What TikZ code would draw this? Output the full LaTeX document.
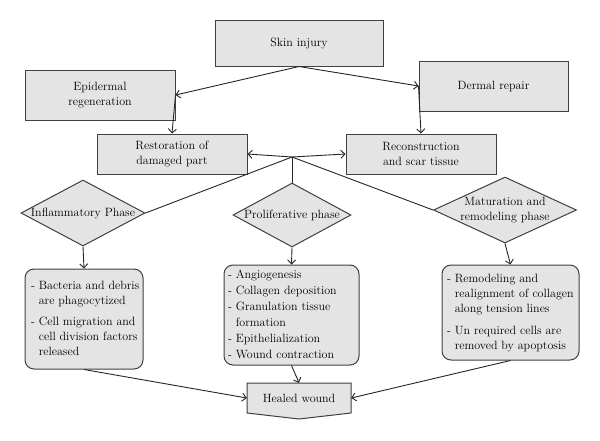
\documentclass[tikz,border=0pt]{standalone}
\usetikzlibrary{shapes.geometric,arrows.meta}
\definecolor{boxfill}{HTML}{E4E4E4}
\definecolor{edgec}{HTML}{404040}
\definecolor{linec}{HTML}{262626}
\begin{document}
\begin{tikzpicture}[x=1pt,y=-1pt,
  every node/.style={font=\rmfamily\fontsize{12}{15}\selectfont, text=black},
  sqbox/.style={draw=edgec, fill=boxfill, line width=1pt, inner sep=0, align=center},
  dia/.style={diamond, draw=edgec, fill=boxfill, line width=1pt, inner sep=0},
  rbox/.style={draw=edgec, fill=boxfill, line width=1pt, rounded corners=9pt, inner sep=0},
  conn/.style={draw=linec, line width=0.9pt},
  arr/.style={conn, -{Straight Barb[length=4pt,width=8pt]}}]
\useasboundingbox[fill=white] (0,0) rectangle (600,440);

% top boxes
\node[sqbox, minimum width=168, minimum height=46] (skin) at (299,43) {Skin injury};
\node[sqbox, minimum width=150, minimum height=50] (epi) at (100,95) {Epidermal\\regeneration};
\node[sqbox, minimum width=149, minimum height=50] (derm) at (493.5,86) {Dermal repair};
\node[sqbox, minimum width=150, minimum height=40] (rest) at (172,154) {Restoration of\\damaged part};
\node[sqbox, minimum width=150, minimum height=40] (recon) at (421,154) {Reconstruction\\and scar tissue};

% diamonds
\node[dia, minimum width=124, minimum height=66] (inf) at (83,213) {};
\node at (inf) {Inflammatory Phase};
\node[dia, minimum width=118, minimum height=64] (pro) at (292,215) {};
\node at (pro) {Proliferative phase};
\node[dia, minimum width=143, minimum height=66] (mat) at (505,210) {};
\node[align=center] at (mat) {Maturation and\\remodeling phase};

% rounded boxes
\node[rbox, minimum width=118, minimum height=100] (ibox) at (84,319) {\makebox[106pt][l]{\begin{tabular}{@{}l@{}}
- Bacteria and debris\\
\phantom{- }are phagocytized\\[6pt]
- Cell migration and\\
\phantom{- }cell division factors\\
\phantom{- }released
\end{tabular}}};
\node[rbox, minimum width=135, minimum height=100] (pbox) at (291.5,315) {\makebox[127pt][l]{\fontsize{12}{16}\selectfont\begin{tabular}{@{}l@{}}
- Angiogenesis\\
- Collagen deposition\\
- Granulation tissue\\
\phantom{- }formation\\
- Epithelialization\\
- Wound contraction
\end{tabular}}};
\node[rbox, minimum width=137, minimum height=95] (mbox) at (510.5,312.5) {\makebox[127pt][l]{\begin{tabular}{@{}l@{}}
- Remodeling and\\
\phantom{- }realignment of collagen\\
\phantom{- }along tension lines\\[7pt]
- Un required cells are\\
\phantom{- }removed by apoptosis
\end{tabular}}};

% healed wound
\path[draw=edgec, fill=boxfill, line width=1pt] (247,383) -- (351,383) -- (351,413) -- (299,419) -- (247,413) -- cycle;
\node[minimum width=104, minimum height=30, inner sep=0] (heal) at (299,398) {Healed wound};

% connectors
\coordinate (hub) at (292,157);
\draw[arr] (skin.south) -- (epi.east);
\draw[arr] (skin.south) -- (derm.west);
\draw[arr] (epi.east) -- (rest.north);
\draw[arr] (derm.west) -- (recon.north);
\draw[arr] (hub) -- (rest.east);
\draw[arr] (hub) -- (recon.west);
\draw[conn] (hub) -- (inf.east);
\draw[conn] (hub) -- (pro.north);
\draw[conn] (hub) -- (mat.west);
\draw[arr] (inf.south) -- (ibox.north);
\draw[arr] (pro.south) -- (pbox.north);
\draw[arr] (mat.south) -- (mbox.north);
\draw[arr] (ibox.south) -- (heal.west);
\draw[arr] (pbox.south) -- (heal.north);
\draw[arr] (mbox.south) -- (heal.east);
\end{tikzpicture}
\end{document}
